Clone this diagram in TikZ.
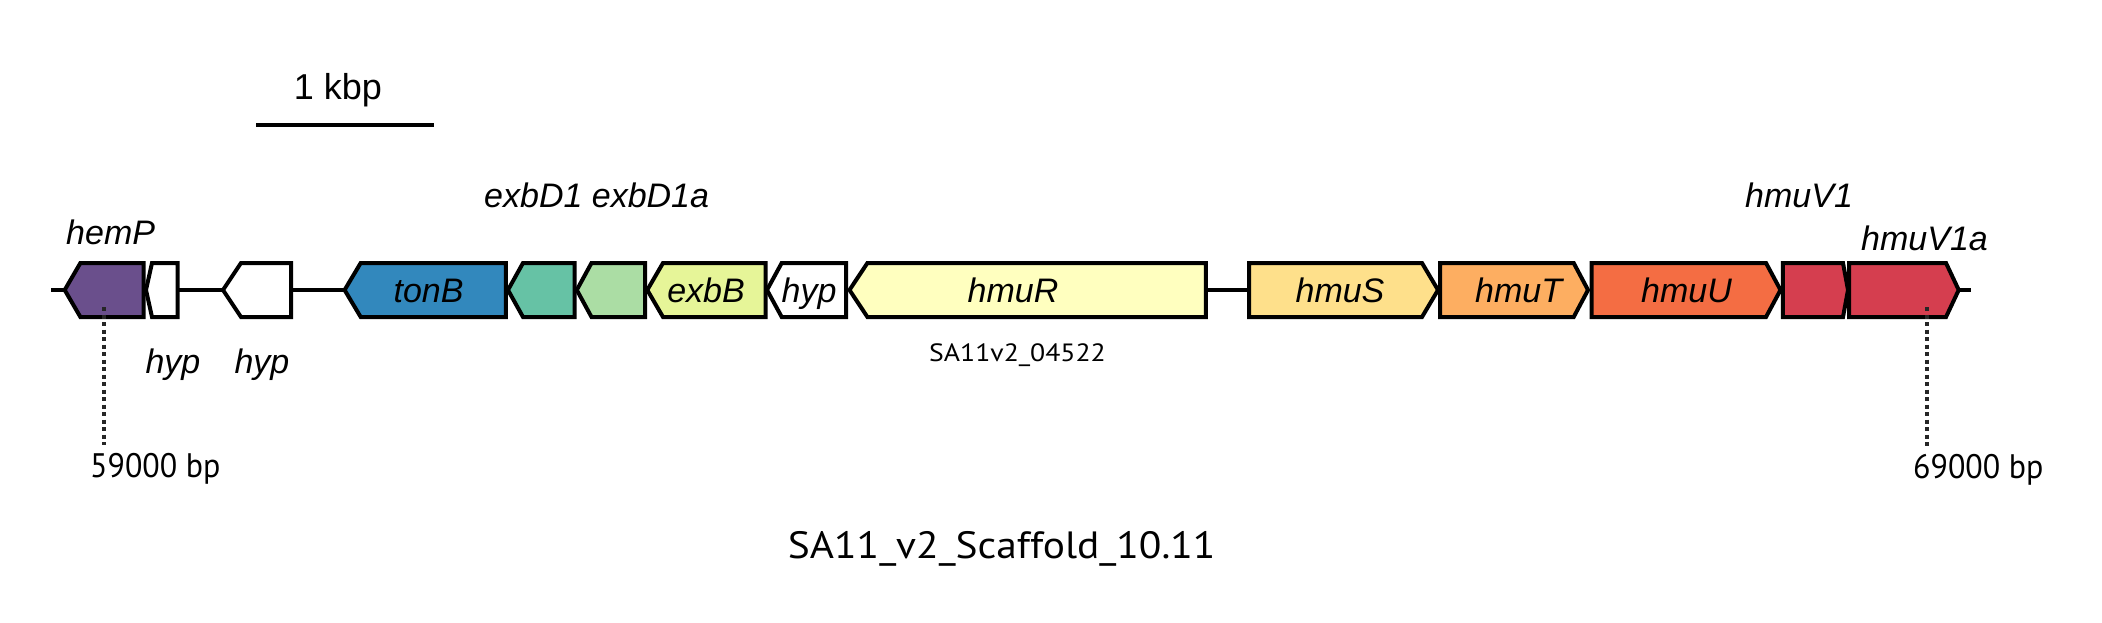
\documentclass[tikz,border=0pt]{standalone}
\usepackage{fontspec}
\setmainfont{Liberation Sans}
\newfontfamily\myrfont{PT Sans}
\definecolor{cHemP}{HTML}{6A4F8C}
\definecolor{cTonB}{HTML}{3288BD}
\definecolor{cTeal}{HTML}{66C2A5}
\definecolor{cLGreen}{HTML}{ABDDA4}
\definecolor{cExbB}{HTML}{E6F598}
\definecolor{cHmuR}{HTML}{FFFFBF}
\definecolor{cHmuS}{HTML}{FEE08B}
\definecolor{cHmuT}{HTML}{FDAE61}
\definecolor{cHmuU}{HTML}{F46D43}
\definecolor{cHmuV}{HTML}{D53E4F}
\newcommand{\geneLeft}[5]{% name, tip, flat, right, color
  \draw[genebox,fill=#5] (#2,290) -- (#3,263) -- (#4,263) -- (#4,317) -- (#3,317) -- cycle;
  \coordinate (#1-l) at (#2,290);
  \coordinate (#1-r) at (#4,290);}
\newcommand{\geneRight}[5]{% name, left, flat, tip, color
  \draw[genebox,fill=#5] (#2,263) -- (#3,263) -- (#4,290) -- (#3,317) -- (#2,317) -- cycle;
  \coordinate (#1-l) at (#2,290);
  \coordinate (#1-r) at (#4,290);}
\tikzset{
  genebox/.style={draw=black,line width=4pt,line join=miter,miter limit=10},
  axisline/.style={draw=black,line width=4pt},
  genelabel/.style={font=\fontsize{34}{40}\selectfont\itshape,inner sep=0pt,anchor=base},
  poslabel/.style={font=\myrfont\fontsize{34}{38}\selectfont,inner sep=0pt,anchor=base west},
  ticks/.style={draw=black!85,line width=4pt,dash pattern=on 4pt off 3.5pt}
}
\begin{document}
\begin{tikzpicture}[x=1pt,y=-1pt]
\useasboundingbox (0,0) rectangle (2102,623);
% scale bar
\node[font=\fontsize{36}{40}\selectfont,inner sep=0pt,anchor=base] (kbp) at (338,100) {1 kbp};
\coordinate (sbl) at (256,125);
\coordinate (sbr) at (434,125);
\draw[axisline] (sbl) -- (sbr);
% axis end points
\coordinate (axL) at (51,290);
\coordinate (axR) at (1971,290);
% genes
\geneLeft{hemP}{64.7}{80.4}{143.7}{cHemP}
\geneLeft{hypA}{146}{152}{177.7}{white}
\geneLeft{hypB}{223}{241}{291}{white}
\geneLeft{tonB}{344.6}{360.7}{505.8}{cTonB}
\geneLeft{exbDa}{508}{523}{574.5}{cTeal}
\geneLeft{exbDb}{576.8}{591.5}{645}{cLGreen}
\geneLeft{exbB}{647.3}{663}{765.6}{cExbB}
\geneLeft{hypC}{767}{781.7}{846}{white}
\geneLeft{hmuR}{849.5}{867.4}{1205.8}{cHmuR}
\geneRight{hmuS}{1249}{1422}{1438}{cHmuS}
\geneRight{hmuT}{1440}{1573.7}{1588}{cHmuT}
\geneRight{hmuU}{1591.6}{1766}{1780.5}{cHmuU}
\geneRight{hmuVa}{1782.8}{1843}{1848}{cHmuV}
\geneRight{hmuVb}{1849}{1946}{1958.7}{cHmuV}
% intergenic connectors
\draw[axisline] (axL) -- (hemP-l);
\draw[axisline] (hypA-r) -- (hypB-l);
\draw[axisline] (hypB-r) -- (tonB-l);
\draw[axisline] (hmuR-r) -- (hmuS-l);
\draw[axisline] (hmuVb-r) -- (axR);
% gene labels
\node[genelabel,anchor=base west] (lhemP) at (66,244) {hemP};
\node[genelabel] (lhypA) at (173,373) {hyp};
\node[genelabel] (lhypB) at (262,373) {hyp};
\node[genelabel] (ltonB) at (428.6,302) {tonB};
\node[genelabel,anchor=base west] (lexbD) at (484,207) {exbD1 exbD1a};
\node[genelabel] (lexbB) at (706,302) {exbB};
\node[genelabel] (lhypC) at (809,302) {hyp};
\node[genelabel] (lhmuR) at (1013,302) {hmuR};
\node[genelabel] (lhmuS) at (1340,302) {hmuS};
\node[genelabel] (lhmuT) at (1518.6,302) {hmuT};
\node[genelabel] (lhmuU) at (1686.5,302) {hmuU};
\node[genelabel,anchor=base west] (lhmuV1) at (1745,207) {hmuV1};
\node[genelabel,anchor=base west] (lhmuV1a) at (1861,250) {hmuV1a};
\node[font=\myrfont\fontsize{25}{30}\selectfont,inner sep=0pt,anchor=base] (locus) at (1017.5,361.7) {\scalebox{1.11}[1]{SA11v2\_04522}};
% position markers
\coordinate (tA1) at (103.6,307);
\coordinate (tA2) at (103.6,445);
\coordinate (tB1) at (1927.4,307);
\coordinate (tB2) at (1927.4,446);
\draw[ticks] (tA1) -- (tA2);
\draw[ticks] (tB1) -- (tB2);
\node[poslabel] (p59) at (90,477.3) {\scalebox{0.94}[1]{59000 bp}};
\node[poslabel] (p69) at (1913,478) {\scalebox{0.94}[1]{69000 bp}};
% title
\node[font=\myrfont\fontsize{38}{44}\selectfont,inner sep=0pt,anchor=base] (title) at (1001.7,558.3) {\scalebox{1.09}[1]{SA11\_v2\_Scaffold\_10.11}};
\end{tikzpicture}
\end{document}
